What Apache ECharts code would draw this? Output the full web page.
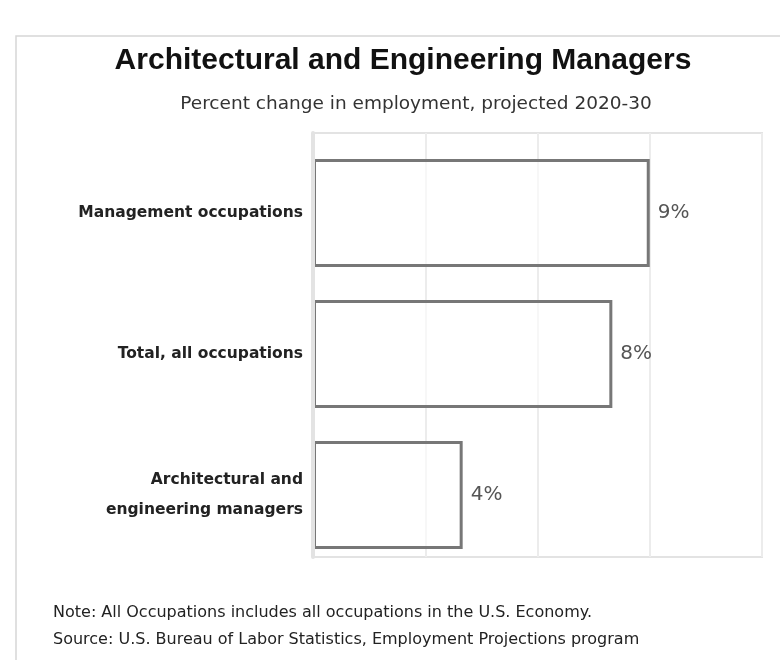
<!DOCTYPE html>
<html>
<head>
<meta charset="utf-8">
<script src="https://cdn.jsdelivr.net/npm/echarts@6/dist/echarts.min.js"></script>
<style>html,body{margin:0;padding:0;background:#fff;}#c{width:780px;height:660px;}</style>
</head>
<body>
<div id="c"></div>
<script>
const titleText = 'Architectural and Engineering Managers';
const subtitleText = 'Percent change in employment, projected 2020-30';
const categories = ['Management occupations', 'Total, all occupations', 'Architectural and\nengineering managers'];
const values = [9, 8, 4];
const xTicks = [0, 3, 6, 9, 12];
const noteLines = ['Note: All Occupations includes all occupations in the U.S. Economy.',
                   'Source: U.S. Bureau of Labor Statistics, Employment Projections program'];

const chart = echarts.init(document.getElementById('c'), null, {renderer: 'canvas'});
const option = {
  backgroundColor: '#fff',
  animation: false,
  grid: [
    {left: 313, top: 133, width: 449, height: 424, show: true, borderColor: '#e3e3e3', borderWidth: 2, backgroundColor: 'transparent', outerBoundsMode: 'none', containLabel: false},
    {left: 313, top: 142.5, width: 449, height: 423, outerBoundsMode: 'none', containLabel: false}
  ],
  xAxis: [
    {gridIndex: 0, type: 'value', min: xTicks[0], max: xTicks[xTicks.length - 1], interval: xTicks[1] - xTicks[0],
     axisLabel: {show: false}, axisTick: {show: false}, axisLine: {show: false},
     splitLine: {show: true, lineStyle: {color: '#ececec', width: 2}}},
    {gridIndex: 1, type: 'value', min: xTicks[0], max: xTicks[xTicks.length - 1], show: false, splitLine: {show: false}}
  ],
  yAxis: [
    {gridIndex: 0, type: 'value', min: 0, max: 1, z: 10,
     axisLabel: {show: false}, axisTick: {show: false}, splitLine: {show: false},
     axisLine: {show: true, lineStyle: {color: '#e3e3e3', width: 4}}},
    {gridIndex: 1, type: 'category', inverse: true, data: categories,
     axisLine: {show: false}, axisTick: {show: false}, splitLine: {show: false},
     axisLabel: {margin: 10, fontFamily: 'DejaVu Sans', fontWeight: 'bold', fontSize: 15.5, color: '#222', lineHeight: 30, align: 'right'}}
  ],
  series: [{
    type: 'bar', xAxisIndex: 1, yAxisIndex: 1, data: values, barWidth: 108,
    itemStyle: {color: 'rgba(255,255,255,0.6)', borderColor: '#777', borderWidth: 3},
    label: {show: true, position: 'right', distance: 8, formatter: '{c}%', fontFamily: 'DejaVu Sans', fontSize: 20, color: '#555'}
  }],
  graphic: [
    {type: 'rect', shape: {x: 16, y: 36, width: 800, height: 700}, style: {fill: 'none', stroke: '#d6d6d6', lineWidth: 1.5}, z: -1, silent: true},
    {type: 'text', x: 403, y: 61, style: {text: titleText, font: 'bold 30px "Liberation Sans", Arial, sans-serif', fill: '#111', textAlign: 'center', textVerticalAlign: 'middle'}},
    {type: 'text', x: 416, y: 104, style: {text: subtitleText, font: '18.5px "DejaVu Sans", sans-serif', fill: '#333', textAlign: 'center', textVerticalAlign: 'middle'}},
    {type: 'text', x: 53, y: 613, style: {text: noteLines[0], font: '16px "DejaVu Sans", sans-serif', fill: '#222', textAlign: 'left', textVerticalAlign: 'middle'}},
    {type: 'text', x: 53, y: 640, style: {text: noteLines[1], font: '16px "DejaVu Sans", sans-serif', fill: '#222', textAlign: 'left', textVerticalAlign: 'middle'}}
  ]
};
chart.setOption(option);
</script>
</body>
</html>
